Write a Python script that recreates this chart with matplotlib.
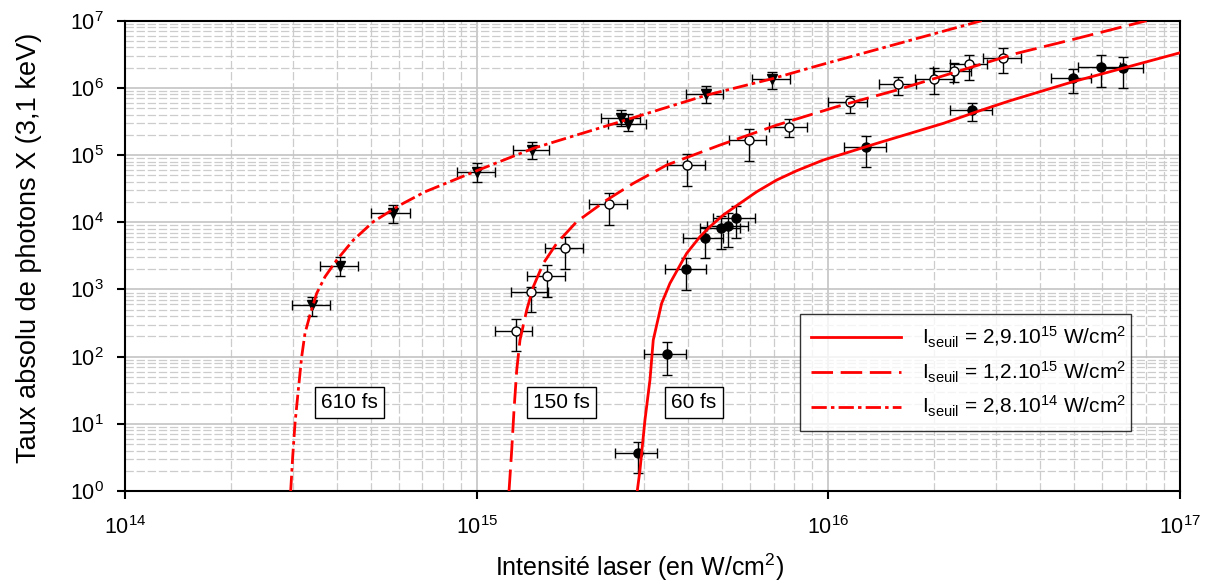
import numpy as np
import matplotlib
matplotlib.use("Agg")
import matplotlib.pyplot as plt
from matplotlib.ticker import LogLocator, NullFormatter

plt.rcParams["font.family"] = ["Liberation Sans", "DejaVu Sans"]
plt.rcParams["mathtext.fontset"] = "custom"
plt.rcParams["mathtext.rm"] = "Liberation Sans"
plt.rcParams["mathtext.it"] = "Liberation Sans:italic"
plt.rcParams["lines.scale_dashes"] = False

# ---------------------------------------------
# Measured points (x, x range, y, y range)
# ---------------------------------------------

# 610 fs - filled down triangles
t_x = [3.40e14, 4.08e14, 5.77e14, 1.00e15, 1.44e15, 2.58e15, 2.70e15, 4.49e15, 6.92e15]
t_xlo = [2.99e14, 3.58e14, 5.02e14, 8.80e14, 1.27e15, 2.26e15, 2.37e15, 3.93e15, 6.07e15]
t_xhi = [3.83e14, 4.61e14, 6.45e14, 1.13e15, 1.61e15, 2.91e15, 3.04e15, 5.02e15, 7.78e15]
t_y = [586, 2254, 1.36e4, 5.53e4, 1.19e5, 3.52e5, 2.89e5, 8.0e5, 1.34e6]
t_ylo = [405, 1600, 9.6e3, 4.0e4, 8.6e4, 2.67e5, 2.3e5, 6.0e5, 9.5e5]
t_yhi = [763, 3006, 1.80e4, 7.5e4, 1.58e5, 4.7e5, 4.07e5, 1.08e6, 1.74e6]

# 150 fs - open circles
o_x = [1.29e15, 1.43e15, 1.58e15, 1.78e15, 2.38e15, 3.96e15, 5.94e15, 7.71e15,
       1.15e16, 1.58e16, 2.00e16, 2.27e16, 2.52e16, 3.13e16]
o_xlo = [1.13e15, 1.25e15, 1.39e15, 1.56e15, 2.08e15, 3.47e15, 5.21e15, 6.77e15,
         1.00e16, 1.39e16, 1.76e16, 1.99e16, 2.22e16, 2.75e16]
o_xhi = [1.44e15, 1.60e15, 1.78e15, 2.00e15, 2.68e15, 4.46e15, 6.67e15, 8.67e15,
         1.29e16, 1.78e16, 2.26e16, 2.55e16, 2.83e16, 3.52e16]
o_y = [243, 924, 1566, 4090, 1.85e4, 7.1e4, 1.67e5, 2.64e5,
       6.2e5, 1.14e6, 1.34e6, 1.78e6, 2.24e6, 2.81e6]
o_ylo = [121, 456, 778, 2012, 9.1e3, 3.5e4, 8.2e4, 1.87e5,
         4.2e5, 7.8e5, 8.0e5, 1.24e6, 1.31e6, 1.68e6]
o_yhi = [359, 1100, 2307, 5960, 2.71e4, 1.03e5, 2.44e5, 3.45e5,
         7.7e5, 1.46e6, 1.95e6, 2.31e6, 3.08e6, 3.9e6]

# 60 fs - filled circles
f_x = [2.87e15, 3.47e15, 3.95e15, 4.46e15, 4.94e15, 5.19e15, 5.45e15,
       1.28e16, 2.57e16, 4.96e16, 5.95e16, 6.89e16]
f_xlo = [2.48e15, 2.99e15, 3.43e15, 3.86e15, 4.32e15, 4.51e15, 4.71e15,
         1.11e16, 2.22e16, 4.29e16, 5.14e16, 6.01e16]
f_xhi = [3.26e15, 3.94e15, 4.49e15, 5.02e15, 5.61e15, 5.92e15, 6.18e15,
         1.46e16, 2.92e16, 5.60e16, 6.75e16, 7.85e16]
f_y = [3.64, 108, 1990, 5760, 8.1e3, 8.9e3, 1.17e4,
       1.33e5, 4.67e5, 1.38e6, 2.06e6, 1.99e6]
f_ylo = [1.83, 53, 980, 2966, 3954, 4315, 5754,
         6.7e4, 3.25e5, 8.3e5, 1.02e6, 9.8e5]
f_yhi = [5.4, 163, 2900, 8570, 1.22e4, 1.36e4, 1.76e4,
         1.94e5, 5.9e5, 1.88e6, 3.08e6, 2.93e6]

# ---------------------------------------------
# Threshold curves
# ---------------------------------------------

c60_x = [2.862e15, 2.913e15, 3.01e15, 3.11e15, 3.178e15, 3.357e15, 3.545e15, 3.955e15,
         4.314e15, 4.605e15, 5.025e15, 5.605e15, 6.254e15, 7.13e15, 8.126e15, 9.671e15,
         1.152e16, 1.372e16, 1.706e16, 2.122e16, 2.641e16, 3.283e16, 4.95e16, 1.0e17]
c60_y = [1.0, 2.05, 11.4, 44.9, 176.6, 621, 1233, 3445,
         6085, 8570, 1.28e4, 1.91e4, 2.84e4, 4.25e4, 5.84e4, 8.43e4,
         1.12e5, 1.49e5, 2.10e5, 2.96e5, 4.41e5, 6.43e5, 1.23e6, 3.33e6]

c150_x = [1.236e15, 1.258e15, 1.277e15, 1.300e15, 1.328e15, 1.388e15, 1.449e15, 1.547e15,
          1.689e15, 1.924e15, 2.342e15, 2.788e15, 3.47e15, 4.92e15, 7.13e15, 1.056e16,
          1.564e16, 2.317e16, 3.43e16, 4.97e16, 8.04e16]
c150_y = [1.0, 4.08, 16.0, 63.2, 177, 494, 1097, 2445,
          4855, 1.017e4, 2.14e4, 3.79e4, 7.1e4, 1.41e5, 2.79e5, 5.24e5,
          9.27e5, 1.74e6, 3.26e6, 5.27e6, 1.0e7]

c610_x = [2.959e14, 2.998e14, 3.044e14, 3.110e14, 3.180e14, 3.249e14, 3.357e14, 3.508e14,
          3.705e14, 4.00e14, 4.46e14, 5.08e14, 6.05e14, 7.13e14, 1.0e15, 1.449e15,
          2.556e15, 4.51e15, 6.97e15, 9.46e15, 2.73e16]
c610_y = [1.0, 3.24, 10.2, 31.8, 99.7, 222, 416, 875,
          1545, 2738, 5435, 1.017e4, 1.80e4, 2.84e4, 5.84e4, 1.26e5,
          3.13e5, 7.81e5, 1.38e6, 2.18e6, 1.0e7]

labels = [r"I$_{\mathregular{seuil}}$ = 2,9.10$^{\mathregular{15}}$ W/cm$^{\mathregular{2}}$",
          r"I$_{\mathregular{seuil}}$ = 1,2.10$^{\mathregular{15}}$ W/cm$^{\mathregular{2}}$",
          r"I$_{\mathregular{seuil}}$ = 2,8.10$^{\mathregular{14}}$ W/cm$^{\mathregular{2}}$"]

durations = ["610 fs", "150 fs", "60 fs"]
duration_x = [4.35e14, 1.74e15, 4.14e15]
duration_y = [20.7, 20.7, 20.7]


def errs(v, lo, hi):
    v = np.array(v)
    return [v - np.array(lo), np.array(hi) - v]


# ---------------------------------------------
# Plot
# ---------------------------------------------

fig = plt.figure(figsize=(12.09, 5.86), dpi=100)
ax = fig.add_axes([0.1034, 0.1621, 0.8726, 0.8026])
ax.set_xscale("log")
ax.set_yscale("log")
ax.set_xlim(1e14, 1e17)
ax.set_ylim(1e0, 1e7)

eb = dict(ecolor="black", elinewidth=1, capsize=3.5, capthick=1, linestyle="none", zorder=3)
ax.errorbar(t_x, t_y, xerr=errs(t_x, t_xlo, t_xhi), yerr=errs(t_y, t_ylo, t_yhi),
            marker="v", ms=7, mfc="black", mec="black", **eb)
ax.errorbar(o_x, o_y, xerr=errs(o_x, o_xlo, o_xhi), yerr=errs(o_y, o_ylo, o_yhi),
            marker="o", ms=6.5, mfc="white", mec="black", mew=1, **eb)
ax.errorbar(f_x, f_y, xerr=errs(f_x, f_xlo, f_xhi), yerr=errs(f_y, f_ylo, f_yhi),
            marker="o", ms=6.5, mfc="black", mec="black", **eb)

ax.plot(c60_x, c60_y, color="red", lw=2, ls="-", label=labels[0], zorder=4)
ax.plot(c150_x, c150_y, color="red", lw=2, ls=(0, (15.5, 5.5)), label=labels[1], zorder=4)
ax.plot(c610_x, c610_y, color="red", lw=2, ls=(0, (11, 3, 2.5, 3)), label=labels[2], zorder=4)

for txt, xx, yy in zip(durations, duration_x, duration_y):
    ax.text(xx, yy, txt, fontsize=15, ha="center", va="center", zorder=5,
            bbox=dict(boxstyle="square,pad=0.3", fc="white", ec="black", lw=1))

leg = ax.legend(loc="lower left", bbox_to_anchor=(0.6398, 0.128, 0.3135, 0.265),
                mode="expand", fontsize=15, handlelength=4.3, frameon=True, fancybox=False,
                borderaxespad=0, labelspacing=0.45, handletextpad=1.0, borderpad=0.55)
leg.get_frame().set_edgecolor("black")
leg.get_frame().set_linewidth(1)
leg.set_zorder(6)

ax.xaxis.set_major_locator(LogLocator(base=10, numticks=20))
ax.yaxis.set_major_locator(LogLocator(base=10, numticks=20))
for axis in (ax.xaxis, ax.yaxis):
    axis.set_minor_locator(LogLocator(base=10, subs=np.arange(2, 10), numticks=100))
    axis.set_minor_formatter(NullFormatter())

ax.set_axisbelow(True)
ax.grid(which="major", color="#c4c4c4", lw=1.2, ls="-")
ax.grid(which="minor", color="#cccccc", lw=0.9, ls=(0, (6, 2)))

ax.tick_params(which="major", direction="out", length=6, width=1.5, labelsize=15.5,
               top=False, right=False)
ax.tick_params(axis="x", which="major", pad=12)
ax.tick_params(axis="y", which="major", pad=9)
ax.tick_params(which="minor", length=0)
for s in ax.spines.values():
    s.set_linewidth(1.5)

ax.set_xlabel(r"Intensité laser (en W/cm$^{\mathregular{2}}$)", fontsize=18)
ax.set_ylabel("Taux absolu de photons X (3,1 keV)", fontsize=19.5)
ax.xaxis.set_label_coords(0.488, -0.128)
ax.yaxis.set_label_coords(-0.079, 0.517)

fig.savefig("out.png", dpi=100)
